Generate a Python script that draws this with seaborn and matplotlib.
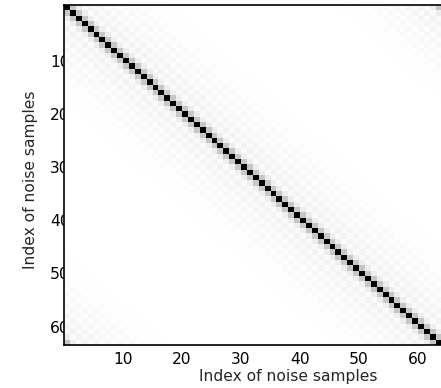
import numpy as np
import matplotlib
matplotlib.use("Agg")
import matplotlib.pyplot as plt
from matplotlib.transforms import ScaledTranslation
import seaborn as sns

n_samples = 64
# covariance magnitude per lag (circulant)
lag_values = [1.0, 0.22, 0.07, 0.02, 0.05, 0.02, 0.04, 0.015, 0.03, 0.01,
              0.025, 0.01, 0.02, 0.006, 0.015, 0.005, 0.01, 0.004, 0.006]
tick_values = [10, 20, 30, 40, 50, 60]
axis_label = "Index of noise samples"

lags = np.zeros(n_samples)
lags[:len(lag_values)] = lag_values
idx = np.arange(n_samples)
d = np.abs(idx[:, None] - idx[None, :])
d = np.minimum(d, n_samples - d)
matrix = lags[d]

sns.set_style("white")
plt.rcParams['font.family'] = ['DejaVu Sans']

W, H = 441, 388
fig = plt.figure(figsize=(W / 100, H / 100), dpi=100)
ax = fig.add_axes([64 / W, (H - 345) / H, 377.6 / W, 340 / H])
sns.heatmap(matrix, cmap="gray_r", vmin=0, vmax=1, cbar=False, ax=ax)

fs = 11.2
ax.set_xticks([t - 0.5 for t in tick_values])
ax.set_xticklabels([str(t) for t in tick_values], rotation=0, fontsize=fs)
ax.set_yticks([t - 0.5 for t in tick_values])
ax.set_yticklabels([str(t) for t in tick_values], rotation=0, fontsize=fs)

for s in ax.spines.values():
    s.set_visible(True)
    s.set_color("black")
    s.set_linewidth(1.2)

ax.tick_params(axis="both", which="both", direction="in", length=3.5, width=1.0,
               top=True, right=True, bottom=True, left=True, color="black",
               labelcolor="black")
ax.tick_params(axis="x", pad=5)
ax.tick_params(axis="y", pad=-4)

for lab in ax.get_yticklabels():
    lab.set_transform(lab.get_transform() + ScaledTranslation(0, -7 / 100, fig.dpi_scale_trans))
for lab in ax.get_xticklabels():
    lab.set_transform(lab.get_transform() + ScaledTranslation(3 / 100, 0, fig.dpi_scale_trans))

ax.set_xlabel(axis_label, fontsize=fs)
ax.set_ylabel(axis_label, fontsize=fs)
ax.xaxis.set_label_coords((288 - 64) / 377.6, (345 - 377) / 340)
ax.yaxis.set_label_coords((31 - 64) / 377.6, (345 - 180) / 340)
ax.xaxis.label.set_va("center")
ax.yaxis.label.set_va("center")

fig.savefig("out.png", dpi=100)
